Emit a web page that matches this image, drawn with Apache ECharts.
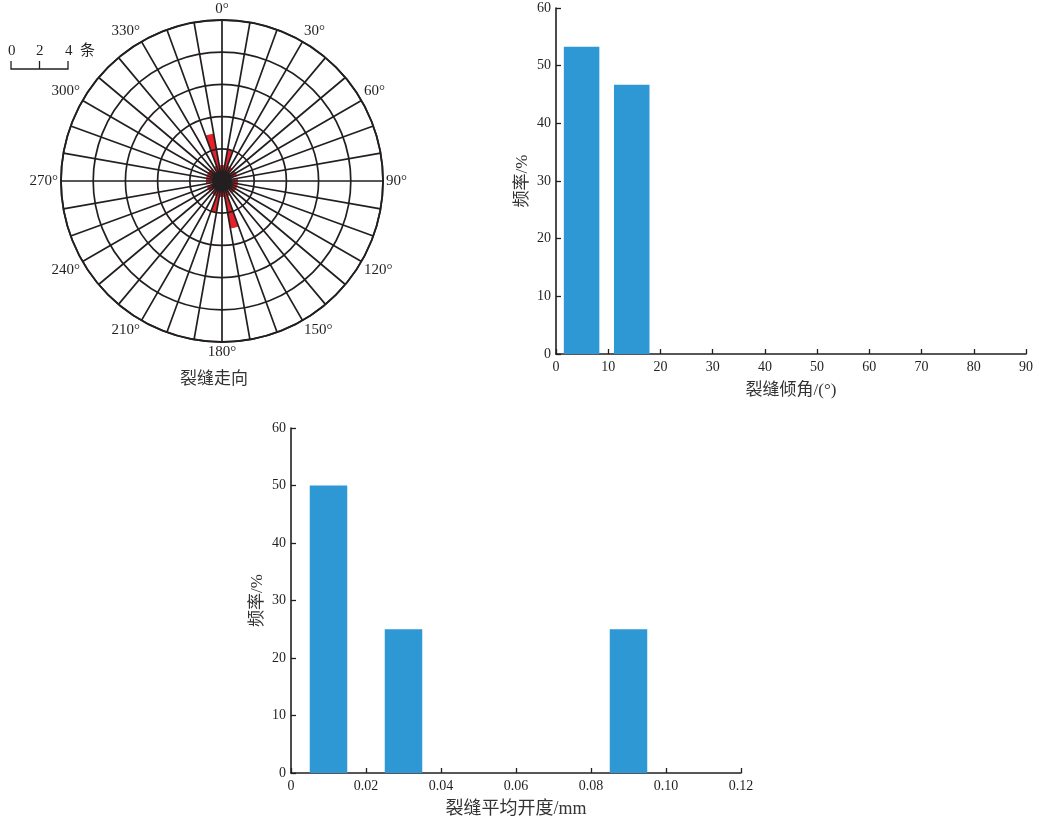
<!DOCTYPE html>
<html>
<head>
<meta charset="utf-8">
<script src="https://cdn.jsdelivr.net/npm/echarts@6/dist/echarts.min.js"></script>
<style>html,body{margin:0;padding:0;background:#fff}#c{width:1062px;height:824px}</style>
</head>
<body>
<div id="c"></div>
<script>
// ---- Rose diagram (fracture strike), 10° bins, counts ----
const strikeBins = ['0-10','10-20','20-30','30-40','40-50','50-60','60-70','70-80','80-90',
  '90-100','100-110','110-120','120-130','130-140','140-150','150-160','160-170','170-180',
  '180-190','190-200','200-210','210-220','220-230','230-240','240-250','250-260','260-270',
  '270-280','280-290','290-300','300-310','310-320','320-330','330-340','340-350','350-360'];
const strikeCounts = [1,2,1,1,0,1,1,0,1, 1,1,1,1,1,0,1,3,1, 1,2,1,1,0,1,1,0,1, 1,1,1,1,1,0,1,3,1];
const angleLabels = [0,30,60,90,120,150,180,210,240,270,300,330];

// ---- Dip angle histogram ----
const dipBinStart = [1.5, 11.1];
const dipBinEnd = [8.3, 17.9];
const dipFreq = [53.3, 46.7];
const dipTicks = [0,10,20,30,40,50,60,70,80,90];

// ---- Mean aperture histogram ----
const apBinStart = [0.005, 0.025, 0.085];
const apBinEnd = [0.015, 0.035, 0.095];
const apFreq = [50, 25, 25];
const freqTicks = [0,10,20,30,40,50,60];

const FONT = "'Liberation Serif','Noto Sans CJK SC',serif";
const INK = '#231f20';
const BLUE = '#2e98d5';
const RED = '#e8202a';

const chart = echarts.init(document.getElementById('c'), null, {renderer:'canvas'});

function barItem(params, api) {
  const p0 = api.coord([api.value(0), api.value(2)]);
  const p1 = api.coord([api.value(1), 0]);
  return {type:'rect', shape:{x:p0[0], y:p0[1], width:p1[0]-p0[0], height:p1[1]-p0[1]},
    style:{fill: BLUE}};
}

const axisCommon = {
  axisLine:{show:true, lineStyle:{color:INK, width:1.6}},
  axisTick:{show:true, inside:true, length:5, lineStyle:{color:INK, width:1.3}},
  splitLine:{show:false},
  axisLabel:{color:INK, fontFamily:FONT, fontSize:14, margin:5},
  nameTextStyle:{color:'#333', fontFamily:FONT, fontSize:17}
};

chart.setOption({
  animation:false,
  polar:[
    {center:[222,181], radius:161},
    {center:[222,181], radius:161}
  ],
  angleAxis:[
    {polarIndex:0, type:'value', min:0, max:360, interval:10, startAngle:90, clockwise:true, z:10,
     axisLine:{show:true, lineStyle:{color:INK, width:1.8}},
     axisTick:{show:false},
     splitLine:{show:true, lineStyle:{color:INK, width:1.7}},
     axisLabel:{show:true, color:INK, fontFamily:FONT, fontSize:15, margin:3,
       formatter:v => (angleLabels.indexOf(v) >= 0 ? v + '°' : '')}},
    {polarIndex:1, type:'category', data:strikeBins, startAngle:90, clockwise:true, boundaryGap:true,
     axisLine:{show:false}, axisTick:{show:false}, axisLabel:{show:false}, splitLine:{show:false}}
  ],
  radiusAxis:[
    {polarIndex:0, type:'value', min:0, max:10, interval:2, z:10,
     axisLine:{show:false}, axisTick:{show:false}, axisLabel:{show:false},
     splitLine:{show:true, lineStyle:{color:INK, width:1.7}}},
    {polarIndex:1, type:'value', min:0, max:10,
     axisLine:{show:false}, axisTick:{show:false}, axisLabel:{show:false}, splitLine:{show:false}}
  ],
  grid:[
    {left:556, right:36, top:8, bottom:470},
    {left:291, right:321, top:428, bottom:51}
  ],
  xAxis:[
    Object.assign({}, axisCommon, {gridIndex:0, type:'value', min:0, max:90, interval:10,
      name:'裂缝倾角/(°)', nameLocation:'middle', nameGap:28,
      axisLabel:Object.assign({}, axisCommon.axisLabel, {margin:6, formatter:v => String(v)})}),
    Object.assign({}, axisCommon, {gridIndex:1, type:'value', min:0, max:0.12, interval:0.02,
      name:'裂缝平均开度/mm', nameLocation:'middle', nameGap:27,
      nameTextStyle:{color:'#333', fontFamily:FONT, fontSize:18},
      axisLabel:Object.assign({}, axisCommon.axisLabel, {margin:6, formatter:v => (v === 0 ? '0' : v.toFixed(2))})})
  ],
  yAxis:[
    Object.assign({}, axisCommon, {gridIndex:0, type:'value', min:0, max:60, interval:10,
      name:'频率/%', nameLocation:'middle', nameGap:25, nameRotate:90}),
    Object.assign({}, axisCommon, {gridIndex:1, type:'value', min:0, max:60, interval:10,
      name:'频率/%', nameLocation:'middle', nameGap:25, nameRotate:90})
  ],
  graphic:[
    {type:'text', left:180, top:371, style:{text:'裂缝走向', fill:'#333', font:"17px " + FONT}},
    {type:'group', left:8, top:44, children:[
      {type:'text', x:0, y:0, style:{text:'0', fill:INK, font:"15px " + FONT}},
      {type:'text', x:28, y:0, style:{text:'2', fill:INK, font:"15px " + FONT}},
      {type:'text', x:57, y:0, style:{text:'4', fill:INK, font:"15px " + FONT}},
      {type:'text', x:72, y:0, style:{text:'条', fill:INK, font:"15px " + FONT}},
      {type:'polyline', shape:{points:[[3,17],[3,25],[60,25],[60,17]]}, style:{stroke:INK, lineWidth:1.3, fill:null}},
      {type:'line', shape:{x1:31.5, y1:17, x2:31.5, y2:25}, style:{stroke:INK, lineWidth:1.3}}
    ]}
  ],
  series:[
    {type:'bar', coordinateSystem:'polar', polarIndex:1, data:strikeCounts, barCategoryGap:'0%',
     itemStyle:{color:RED}, z:2},
    {type:'custom', xAxisIndex:0, yAxisIndex:0, renderItem:barItem,
     encode:{x:[0,1], y:2},
     data:dipFreq.map((f,i) => [dipBinStart[i], dipBinEnd[i], f])},
    {type:'custom', xAxisIndex:1, yAxisIndex:1, renderItem:barItem,
     encode:{x:[0,1], y:2},
     data:apFreq.map((f,i) => [apBinStart[i], apBinEnd[i], f])}
  ]
});
</script>
</body>
</html>
